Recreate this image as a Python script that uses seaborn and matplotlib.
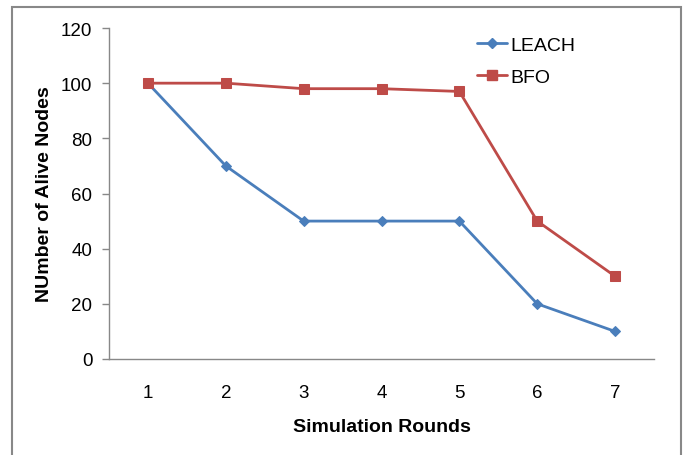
import matplotlib
matplotlib.use("Agg")
import matplotlib.pyplot as plt
import seaborn as sns
import pandas as pd
from matplotlib.patches import Rectangle
from matplotlib.lines import Line2D

rounds = [1, 2, 3, 4, 5, 6, 7]
leach = [100, 70, 50, 50, 50, 20, 10]
bfo = [100, 100, 98, 98, 97, 50, 30]
series_names = ["LEACH", "BFO"]
yticks = [0, 20, 40, 60, 80, 100, 120]

sns.set_theme(style="white")
plt.rcParams['font.family'] = ['Liberation Sans', 'DejaVu Sans']
plt.rcParams['text.color'] = 'black'
plt.rcParams['axes.labelcolor'] = 'black'
plt.rcParams['xtick.color'] = 'black'
plt.rcParams['ytick.color'] = 'black'

df = pd.DataFrame({
    "round": rounds * 2,
    "value": leach + bfo,
    "series": [series_names[0]] * len(rounds) + [series_names[1]] * len(rounds),
})

fig = plt.figure(figsize=(6.86, 4.56), dpi=100)
ax = fig.add_axes([109/686, 1 - 360/456, 545/686, 331/456])

palette = {"LEACH": "#4A7EBB", "BFO": "#BE4B48"}
sns.lineplot(data=df, x="round", y="value", hue="series", style="series",
             markers={"LEACH": "D", "BFO": "s"}, dashes=False,
             palette=palette, linewidth=2.0, ax=ax, legend=False)
for line, ms in zip(ax.lines, [5, 7.5]):
    line.set_markersize(ms)
    line.set_markeredgecolor(line.get_color())

ax.set_xlim(0.5, 7.5)
ax.set_ylim(0, 120)
ax.set_yticks(yticks)
ax.set_xticks(rounds)
ax.set_xlabel("Simulation Rounds", fontsize=14, fontweight="bold", labelpad=12)
ax.set_ylabel("NUmber of Alive Nodes", fontsize=14, fontweight="bold", labelpad=6)
ax.tick_params(axis="y", labelsize=13.5, length=5, width=1, color="#888888", left=True, direction="out", pad=7,
               labelcolor="black")
ax.tick_params(axis="x", labelsize=13.5, length=0, pad=18, labelcolor="black")
for s in ["top", "right"]:
    ax.spines[s].set_visible(False)
for s in ["left", "bottom"]:
    ax.spines[s].set_color("#888888")
    ax.spines[s].set_linewidth(1)

handles = [Line2D([], [], color=palette["LEACH"], marker="D", markersize=5, lw=2.0),
           Line2D([], [], color=palette["BFO"], marker="s", markersize=7.5, lw=2.0)]
leg = ax.legend(handles, series_names, loc="center left", bbox_to_anchor=(0.675, 0.9), frameon=False,
                fontsize=14, handlelength=1.55, handletextpad=0.15, labelspacing=0.75, borderpad=0,
                borderaxespad=0)

fig.patches.append(Rectangle((12/686, -0.05), 669/686, 1.05 - 8/456, transform=fig.transFigure,
                             fill=False, edgecolor="#888888", linewidth=1.5))

fig.savefig("out.png", dpi=100)
